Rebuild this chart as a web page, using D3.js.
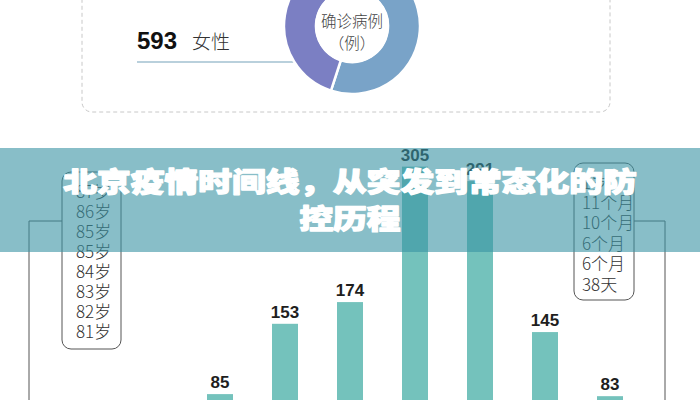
<!DOCTYPE html>
<html><head><meta charset="utf-8">
<script src="https://cdn.jsdelivr.net/npm/d3@7"></script>
<style>html,body{margin:0;padding:0;background:#fff;}svg{display:block;}</style>
</head><body>
<svg id="c" width="700" height="400"></svg>
<script>
// ---- data ----
const genderLabels = ["男性", "女性"];
const genderValues = [725, 593];
const barCategories = ["阶段1", "阶段2", "阶段3", "阶段4", "阶段5", "阶段6", "阶段7"];
const barValues = [85, 153, 174, 305, 291, 145, 83];
const oldestAges = ["87岁", "86岁", "85岁", "85岁", "84岁", "83岁", "82岁", "81岁"];
const youngestAges = ["1岁", "11个月", "10个月", "6个月", "6个月", "38天"];
const titleLines = ["北京疫情时间线，从突发到常态化的防", "控历程"];

const svg = d3.select("#c");
const CJK = "'Noto Sans CJK SC','Noto Sans',sans-serif";
const NUM = "'Liberation Sans',Arial,sans-serif";

// dashed panel
svg.append("rect").attr("x", 82).attr("y", -20).attr("width", 528).attr("height", 132)
  .attr("rx", 10).attr("fill", "none").attr("stroke", "#c8c8c8").attr("stroke-dasharray", "4,3");

// female label
svg.append("text").attr("x", 137).attr("y", 49).attr("font-family", NUM).attr("font-weight", "bold")
  .attr("font-size", 24).attr("fill", "#111").text(genderValues[1]);
svg.append("text").attr("x", 192).attr("y", 49).attr("font-family", CJK).attr("font-weight", 300)
  .attr("font-size", 19).attr("fill", "#333").text(genderLabels[1]);
svg.append("line").attr("x1", 137).attr("x2", 315).attr("y1", 62).attr("y2", 62)
  .attr("stroke", "#b9d0dc").attr("stroke-width", 2);

// donut
const pie = d3.pie().sort(null).value(d => d)(genderValues);
const arc = d3.arc().innerRadius(36).outerRadius(68);
const dg = svg.append("g").attr("transform", "translate(352,26)");
const dColors = ["#79a3c8", "#7b7fc3"];
dg.selectAll("path").data(pie).join("path").attr("d", arc)
  .attr("fill", (d, i) => dColors[i]).attr("stroke", "#fff").attr("stroke-width", 2.5);
dg.append("circle").attr("r", 37).attr("fill", "#fff");
dg.append("text").attr("y", -6).attr("text-anchor", "middle").attr("dominant-baseline", "central")
  .attr("font-family", CJK).attr("font-weight", 300).attr("font-size", 15.5).attr("fill", "#444").text("确诊病例");
dg.append("text").attr("y", 16).attr("text-anchor", "middle").attr("dominant-baseline", "central")
  .attr("font-family", CJK).attr("font-weight", 300).attr("font-size", 15.5).attr("fill", "#444").text("（例）");

// left bracket + box
const stroke = "#555";
svg.append("path").attr("d", "M29,420 V221 H62").attr("fill", "none").attr("stroke", stroke).attr("stroke-width", 1);
svg.append("rect").attr("x", 62).attr("y", 172).attr("width", 59).attr("height", 177).attr("rx", 9)
  .attr("fill", "none").attr("stroke", stroke).attr("stroke-width", 1);
svg.append("g").selectAll("text").data(oldestAges).join("text")
  .attr("x", 76).attr("y", (d, i) => 190 + i * 20).attr("dominant-baseline", "central")
  .attr("font-family", CJK).attr("font-weight", 300).attr("font-size", 17).attr("fill", "#333").text(d => d);

// right bracket + box
svg.append("path").attr("d", "M634,221 H665 V420").attr("fill", "none").attr("stroke", stroke).attr("stroke-width", 1);
svg.append("rect").attr("x", 574).attr("y", 163).attr("width", 60).attr("height", 137).attr("rx", 9)
  .attr("fill", "none").attr("stroke", stroke).attr("stroke-width", 1);
svg.append("g").selectAll("text").data(youngestAges).join("text")
  .attr("x", 582).attr("y", (d, i) => 181 + i * 20.4).attr("dominant-baseline", "central")
  .attr("font-family", CJK).attr("font-weight", 300).attr("font-size", 17).attr("fill", "#333").text(d => d);

// bars
const x = d3.scaleBand().domain(barCategories).range([187.5, 642.5]).paddingInner(0.6).paddingOuter(0.3);
const y = d3.scaleLinear().domain([0, 400]).range([482, 68.4]);
svg.append("g").selectAll("rect").data(barValues).join("rect")
  .attr("x", (d, i) => x(barCategories[i])).attr("width", x.bandwidth())
  .attr("y", d => y(d)).attr("height", d => y(0) - y(d)).attr("fill", "#74c2bc");
svg.append("g").selectAll("text").data(barValues).join("text")
  .attr("x", (d, i) => x(barCategories[i]) + x.bandwidth() / 2).attr("y", d => y(d) - 6)
  .attr("text-anchor", "middle").attr("font-family", NUM).attr("font-weight", "bold")
  .attr("font-size", 17).attr("fill", "#1e1e1e").text(d => d);

// banner overlay
svg.append("rect").attr("x", 0).attr("y", 148).attr("width", 700).attr("height", 104)
  .attr("fill", "rgb(57,147,163)").attr("fill-opacity", 0.6);
const tg = svg.append("g");
titleLines.forEach((t, i) => {
  tg.append("text").attr("transform", `translate(350,${181 + i * 37}) scale(1.25,1)`)
    .attr("text-anchor", "middle").attr("dominant-baseline", "central")
    .attr("font-family", CJK).attr("font-weight", 900).attr("font-size", 27)
    .attr("fill", "#fff").attr("stroke", "#fff").attr("stroke-width", 1.3)
    .attr("stroke-linejoin", "round").text(t);
});
</script>
</body></html>
